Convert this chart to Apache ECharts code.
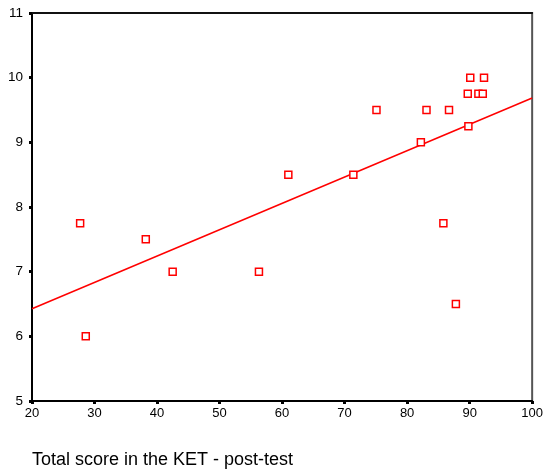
<!DOCTYPE html>
<html>
<head>
<meta charset="utf-8">
<script src="https://cdn.jsdelivr.net/npm/echarts@6/dist/echarts.min.js"></script>
<style>
  html, body { margin: 0; padding: 0; background: #fff; }
  #chart { width: 546px; height: 470px; }
</style>
</head>
<body>
<div id="chart"></div>
<script>
// KET post-test total score vs. rating
const ketScore = [27.7, 28.6, 38.2, 42.5, 56.3, 61.0, 71.4, 75.1, 82.2, 83.1,
                  85.8, 86.7, 87.8, 89.7, 89.8, 90.1, 91.4, 92.1, 92.3];
const rating = [7.75, 6.0, 7.5, 7.0, 7.0, 8.5, 8.5, 9.5, 9.0, 9.5,
                7.75, 9.5, 6.5, 9.75, 9.25, 10.0, 9.75, 9.75, 10.0];
const xTicks = [20, 30, 40, 50, 60, 70, 80, 90, 100];
const yTicks = [5, 6, 7, 8, 9, 10, 11];

// least squares fit line
const n = ketScore.length;
const mx = ketScore.reduce((a, b) => a + b, 0) / n;
const my = rating.reduce((a, b) => a + b, 0) / n;
let sxy = 0, sxx = 0;
for (let i = 0; i < n; i++) {
    sxy += (ketScore[i] - mx) * (rating[i] - my);
    sxx += (ketScore[i] - mx) * (ketScore[i] - mx);
}
const slope = sxy / sxx;
const intercept = my - slope * mx;
const xMin = xTicks[0], xMax = xTicks[xTicks.length - 1];
const fitLine = [[xMin, intercept + slope * xMin], [xMax, intercept + slope * xMax]];

const chart = echarts.init(document.getElementById("chart"));
const font = "Liberation Sans, Arial, sans-serif";
chart.setOption({
    animation: false,
    title: {
        text: "Total score in the KET - post-test",
        left: 32,
        top: 451,
        padding: 0,
        textStyle: { fontFamily: font, fontSize: 18, fontWeight: "normal", color: "#000" }
    },
    grid: {
        left: 32, right: 11, top: 13, bottom: 69,
        show: true, borderColor: "#555", borderWidth: 2, backgroundColor: "#fff"
    },
    xAxis: [
        {
            type: "value", min: xMin, max: xMax, interval: 10,
            axisLine: { lineStyle: { color: "#000", width: 2 } },
            axisTick: { show: true, length: 3, lineStyle: { color: "#000", width: 3 } },
            axisLabel: { margin: 6, fontFamily: font, fontSize: 13, color: "#000" },
            splitLine: { show: false }
        },
        {
            type: "value", position: "top", min: xMin, max: xMax, interval: 10,
            axisLine: { show: true, lineStyle: { color: "#111", width: 2 } },
            axisTick: { show: false }, axisLabel: { show: false }, splitLine: { show: false }
        }
    ],
    yAxis: {
        type: "value", min: yTicks[0], max: yTicks[yTicks.length - 1], interval: 1,
        axisLine: { show: true, lineStyle: { color: "#000", width: 2 } },
        axisTick: { show: true, length: 3, lineStyle: { color: "#000", width: 3 } },
        axisLabel: { margin: 9, fontFamily: font, fontSize: 13.5, color: "#000" },
        splitLine: { show: false }
    },
    series: [
        {
            type: "line",
            data: fitLine,
            symbol: "none",
            lineStyle: { color: "#ff0000", width: 1.5 },
            z: 2
        },
        {
            type: "scatter",
            data: ketScore.map((x, i) => [x, rating[i]]),
            symbol: "rect",
            symbolSize: 7,
            itemStyle: { color: "#fff", borderColor: "#ff0000", borderWidth: 1.5, opacity: 1 },
            z: 3
        }
    ]
});
</script>
</body>
</html>
